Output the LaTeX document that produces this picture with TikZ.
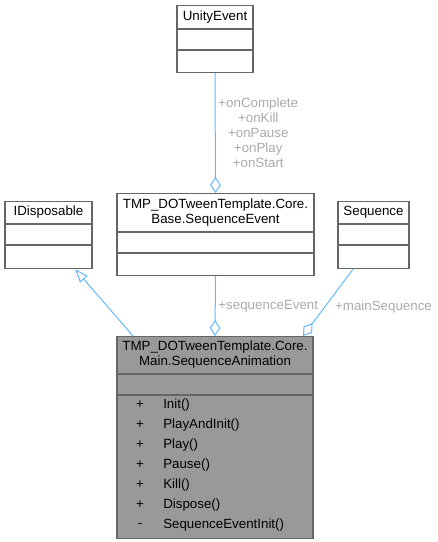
\documentclass[tikz,border=0pt]{standalone}
\usepackage{fontspec}
\setmainfont{Liberation Sans}
\usetikzlibrary{arrows.meta}
\definecolor{edgeblue}{RGB}{99,184,255}
\definecolor{boxline}{RGB}{102,102,102}
\definecolor{mainfill}{RGB}{153,153,153}
\definecolor{lblgray}{RGB}{170,170,170}

\begin{document}
\begin{tikzpicture}[x=0.75pt, y=-0.75pt,
    every node/.style={font=\fontsize{10}{11.25}\selectfont},
    cls/.style={draw=boxline, line width=0.8pt, fill=white, inner sep=0pt, align=center, anchor=north},
    maincls/.style={cls, fill=mainfill},
    lbl/.style={text=lblgray, align=center, inner sep=2pt},
    aggr/.style={draw=edgeblue, line width=0.75pt, -{Diamond[open, length=12pt, width=8pt]}},
    inherit/.style={draw=edgeblue, line width=0.75pt, -{Triangle[open, length=10pt, width=7.5pt]}}]
    \useasboundingbox (0,0) rectangle (437,542);

    \node[cls, minimum width=57pt, minimum height=17.25pt] (ueTitle) at (215,5) {UnityEvent};
    \node[cls, minimum width=57pt, minimum height=15pt] (ueAttr) at (ueTitle.south) {};
    \node[cls, minimum width=57pt, minimum height=16.5pt] (ueOps) at (ueAttr.south) {};

    \node[cls, minimum width=147.75pt, minimum height=28.5pt] (seTitle) at (215.5,193) {TMP\_DOTweenTemplate.Core.\\Base.SequenceEvent};
    \node[cls, minimum width=147.75pt, minimum height=15pt] (seAttr) at (seTitle.south) {};
    \node[cls, minimum width=147.75pt, minimum height=16.5pt] (seOps) at (seAttr.south) {};

    \node[cls, minimum width=65.25pt, minimum height=16.5pt] (idTitle) at (48.5,201) {IDisposable};
    \node[cls, minimum width=65.25pt, minimum height=15pt] (idAttr) at (idTitle.south) {};
    \node[cls, minimum width=65.25pt, minimum height=17.25pt] (idOps) at (idAttr.south) {};

    \node[cls, minimum width=53.25pt, minimum height=16.5pt] (sqTitle) at (373.5,201) {Sequence};
    \node[cls, minimum width=53.25pt, minimum height=15pt] (sqAttr) at (sqTitle.south) {};
    \node[cls, minimum width=53.25pt, minimum height=17.25pt] (sqOps) at (sqAttr.south) {};

    \node[maincls, minimum width=147pt, minimum height=27.75pt] (saTitle) at (215,336) {TMP\_DOTweenTemplate.Core.\\Main.SequenceAnimation};
    \node[maincls, minimum width=147pt, minimum height=15pt] (saAttr) at (saTitle.south) {};
    \node[maincls, minimum width=147pt, minimum height=107.25pt] (saOps) at (saAttr.south) {};
    \foreach \vis/\op [count=\i] in {+/Init(), +/PlayAndInit(), +/Play(), +/Pause(), +/Kill(), +/Dispose(), -/SequenceEventInit()}{
        \node (saVis\i) at (140,{385+20*\i}) {\vis};
        \node[anchor=west, inner sep=0pt] (saOp\i) at (163,{385+20*\i}) {\op};
    }

    \draw[aggr] (ueOps.south) -- node[lbl, right] {+onComplete\\+onKill\\+onPause\\+onPlay\\+onStart} (seTitle.north);
    \draw[aggr] (seOps.south) -- node[lbl, right] {+sequenceEvent} (saTitle.north);
    \draw[aggr] ([xshift=-15.4pt]sqOps.south) -- node[lbl, anchor=west, xshift=3pt, yshift=-3pt] {+mainSequence} ([xshift=66pt]saTitle.north);
    \draw[inherit] ([xshift=-61.5pt]saTitle.north) -- ([xshift=20pt]idOps.south);

\end{tikzpicture}
\end{document}
